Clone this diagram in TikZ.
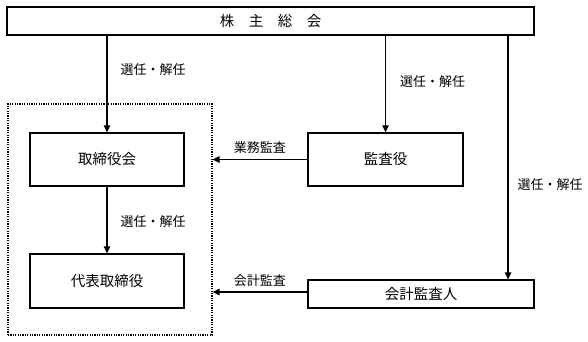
\documentclass[tikz,border=0pt]{standalone}
\usepackage{fontspec}
\setmainfont{Noto Sans CJK JP}
\usetikzlibrary{positioning,arrows.meta}
\begin{document}
\begin{tikzpicture}[x=1pt, y=-1pt,
    box/.style={draw, line width=1.3pt, inner sep=0pt, font=\fontsize{14.5}{14.5}\selectfont},
    group/.style={draw, line width=1.2pt, dash pattern=on 1.2pt off 1.2pt, inner sep=0pt},
    arr/.style={line width=1.3pt, -{Triangle[length=7pt,width=6.5pt]}},
    lbl/.style={font=\fontsize{13}{13}\selectfont, inner sep=0pt}
]
\useasboundingbox (0,0) rectangle (588,342);
% boxes
\node[box, minimum width=527pt, minimum height=28pt] (soukai) at (270.5,21) {株　主　総　会};
\node[group, minimum width=204pt, minimum height=231pt] (kikan) at (110,219.5) {};
\node[box, minimum width=154pt, minimum height=53pt] (torikai) at (107,159.5) {取締役会};
\node[box, minimum width=154pt, minimum height=54pt] (daihyo) at (107,281) {代表取締役};
\node[box, minimum width=155pt, minimum height=53pt] (kansa) at (385.5,159.5) {監査役};
\node[box, minimum width=226pt, minimum height=28pt] (kaikei) at (421,294) {会計監査人};

% appointment arrows
\draw[arr] (soukai.south -| torikai.north) -- (torikai.north)
    node[lbl, pos=0.35, anchor=west, xshift=13pt] {選任・解任};
\draw[arr] (soukai.south -| kansa.north) -- (kansa.north)
    node[lbl, pos=0.48, anchor=west, xshift=14pt] {選任・解任};
\draw[arr] (torikai) -- (daihyo)
    node[lbl, pos=0.53, anchor=west, xshift=13pt] {選任・解任};
\coordinate (kaikeitop) at ([xshift=87pt]kaikei.north);
\draw[arr] (soukai.south -| kaikeitop) -- (kaikeitop)
    node[lbl, pos=0.61, anchor=west, xshift=9pt] {選任・解任};

% audit arrows
\draw[arr] (kansa.west) -- (kansa.west -| kikan.east)
    node[lbl, midway, above=5pt] {業務監査};
\draw[arr] ([yshift=2pt]kaikei.west) -- ([yshift=2pt]kaikei.west -| kikan.east)
    node[lbl, midway, above=5pt] {会計監査};
\end{tikzpicture}
\end{document}
